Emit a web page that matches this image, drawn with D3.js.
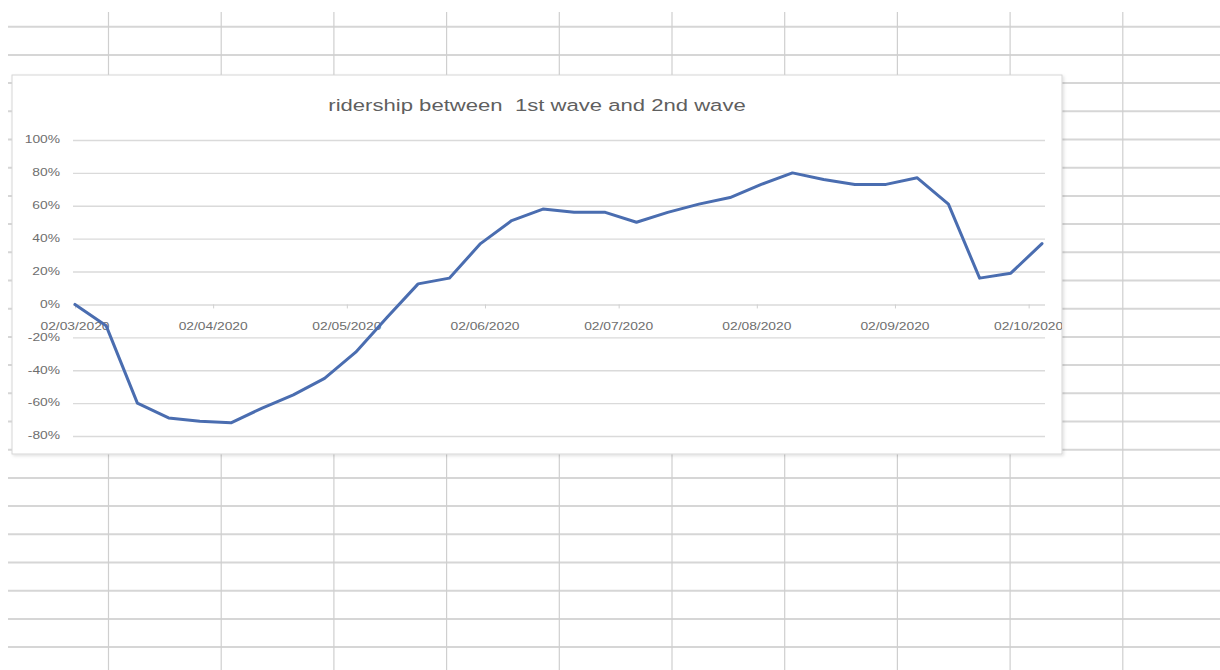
<!DOCTYPE html>
<html>
<head>
<meta charset="utf-8">
<script src="https://cdn.jsdelivr.net/npm/d3@7"></script>
<style>
  html, body { margin: 0; padding: 0; background: #ffffff; }
  svg { display: block; }
</style>
</head>
<body>
<svg id="sheet" width="1220" height="670"></svg>
<script>
// Weekly ridership change (share of baseline), one value per Monday
const weekDates = [
  "2020-03-02", "2020-03-09", "2020-03-16", "2020-03-23", "2020-03-30",
  "2020-04-06", "2020-04-13", "2020-04-20", "2020-04-27", "2020-05-04",
  "2020-05-11", "2020-05-18", "2020-05-25", "2020-06-01", "2020-06-08",
  "2020-06-15", "2020-06-22", "2020-06-29", "2020-07-06", "2020-07-13",
  "2020-07-20", "2020-07-27", "2020-08-03", "2020-08-10", "2020-08-17",
  "2020-08-24", "2020-08-31", "2020-09-07", "2020-09-14", "2020-09-21",
  "2020-09-28", "2020-10-05"
];
const ridership = [
  0.00, -0.13, -0.60, -0.69, -0.71, -0.72, -0.63, -0.55, -0.45, -0.29,
  -0.08, 0.125, 0.16, 0.37, 0.51, 0.58, 0.56, 0.56, 0.50, 0.56,
  0.61, 0.65, 0.73, 0.80, 0.76, 0.73, 0.73, 0.77, 0.61, 0.16,
  0.19, 0.37
];

// Monthly date ticks (dd/mm/yyyy)
const dateTicks = [
  "2020-03-02", "2020-04-02", "2020-05-02", "2020-06-02",
  "2020-07-02", "2020-08-02", "2020-09-02", "2020-10-02"
];
const dateTickLabels = [
  "02/03/2020", "02/04/2020", "02/05/2020", "02/06/2020",
  "02/07/2020", "02/08/2020", "02/09/2020", "02/10/2020"
];

// Percentage ticks
const pctTicks = [-0.8, -0.6, -0.4, -0.2, 0, 0.2, 0.4, 0.6, 0.8, 1.0];
const pctTickLabels = ["-80%", "-60%", "-40%", "-20%", "0%", "20%", "40%", "60%", "80%", "100%"];

const chartTitle = "ridership between  1st wave and 2nd wave";

const parseDay = d3.utcParse("%Y-%m-%d");
const series = weekDates.map((d, i) => ({ date: parseDay(d), value: ridership[i] }));

const svg = d3.select("#sheet");
const W = 1220, H = 670;

// ---- worksheet cells behind the chart ----
const sheet = svg.append("g").attr("class", "worksheet");
const colLines = d3.range(10).map(i => 108.5 + i * 112.7);
const rowLines = d3.range(23).map(i => 26.7 + i * 28.2);

sheet.selectAll("line.row").data(rowLines).join("line")
  .attr("class", "row")
  .attr("x1", 8).attr("x2", W)
  .attr("y1", d => d).attr("y2", d => d)
  .attr("stroke", "#d6d6d6").attr("stroke-width", 2);

sheet.selectAll("line.col").data(colLines).join("line")
  .attr("class", "col")
  .attr("x1", d => d).attr("x2", d => d)
  .attr("y1", 12).attr("y2", H)
  .attr("stroke", "#cfcfcf").attr("stroke-width", 1.2);

// ---- chart object ----
const box = { x: 12, y: 75, w: 1050, h: 379 };
const defs = svg.append("defs");
const shadow = defs.append("filter").attr("id", "boxShadow")
  .attr("x", "-2%").attr("y", "-2%").attr("width", "104%").attr("height", "106%");
shadow.append("feDropShadow")
  .attr("dx", 1.5).attr("dy", 1.5).attr("stdDeviation", 1.5)
  .attr("flood-color", "#000").attr("flood-opacity", 0.12);

svg.append("rect")
  .attr("x", box.x).attr("y", box.y)
  .attr("width", box.w).attr("height", box.h)
  .attr("fill", "#ffffff")
  .attr("stroke", "#d6d6d6").attr("stroke-width", 1)
  .attr("filter", "url(#boxShadow)");

const chart = svg.append("g").attr("class", "chart");

// clip text that runs past the chart object's edge
defs.append("clipPath").attr("id", "boxClip")
  .append("rect").attr("x", box.x).attr("y", box.y).attr("width", box.w).attr("height", box.h);

const plot = { left: 75, right: 1042, top: 140, bottom: 436 };

const x = d3.scaleUtc()
  .domain([parseDay(weekDates[0]), parseDay(weekDates[weekDates.length - 1])])
  .range([plot.left, plot.right]);

const y = d3.scaleLinear()
  .domain([d3.min(pctTicks), d3.max(pctTicks)])
  .range([plot.bottom, plot.top]);

const labelColor = "#6e6e6e";
const stretch = 1.38;

// horizontal gridlines
chart.append("g")
  .attr("transform", `translate(${plot.left - 2},0)`)
  .call(d3.axisRight(y).tickValues(pctTicks).tickSize(plot.right - plot.left + 5).tickFormat(""))
  .call(g => g.select(".domain").remove())
  .call(g => g.selectAll(".tick line").attr("stroke", "#dadada").attr("stroke-width", 1.4));

// small tick marks on the zero line
chart.append("g")
  .attr("transform", `translate(0,${y(0)})`)
  .call(d3.axisBottom(x).tickValues(dateTicks.map(parseDay)).tickSize(4).tickFormat(""))
  .call(g => g.select(".domain").remove())
  .call(g => g.selectAll(".tick line").attr("stroke", "#d0d0d0"));

// y labels
chart.append("g").selectAll("text").data(pctTicks).join("text")
  .attr("transform", d => `translate(60,${y(d)}) scale(${stretch},1)`)
  .attr("text-anchor", "end")
  .attr("dominant-baseline", "central")
  .attr("font-family", "Liberation Sans, Arial, sans-serif")
  .attr("font-size", 10)
  .attr("fill", labelColor)
  .text((d, i) => pctTickLabels[i]);

// x labels, sitting just below the zero line
chart.append("g").attr("clip-path", "url(#boxClip)")
  .selectAll("text").data(dateTicks).join("text")
  .attr("transform", d => `translate(${x(parseDay(d))},${y(0) + 22}) scale(${stretch},1)`)
  .attr("text-anchor", "middle")
  .attr("dominant-baseline", "central")
  .attr("font-family", "Liberation Sans, Arial, sans-serif")
  .attr("font-size", 10)
  .attr("fill", labelColor)
  .text((d, i) => dateTickLabels[i]);

// ridership line
const line = d3.line().x(d => x(d.date)).y(d => y(d.value));
chart.append("path")
  .datum(series)
  .attr("d", line)
  .attr("fill", "none")
  .attr("stroke", "#4a6db0")
  .attr("stroke-width", 3)
  .attr("stroke-linejoin", "round")
  .attr("stroke-linecap", "round");

// title
chart.append("text")
  .attr("transform", `translate(${box.x + box.w / 2},111) scale(1.3,1)`)
  .attr("text-anchor", "middle")
  .attr("font-family", "Liberation Sans, Arial, sans-serif")
  .attr("font-size", 17)
  .attr("fill", "#5f5f5f")
  .style("white-space", "pre")
  .text(chartTitle);
</script>
</body>
</html>
